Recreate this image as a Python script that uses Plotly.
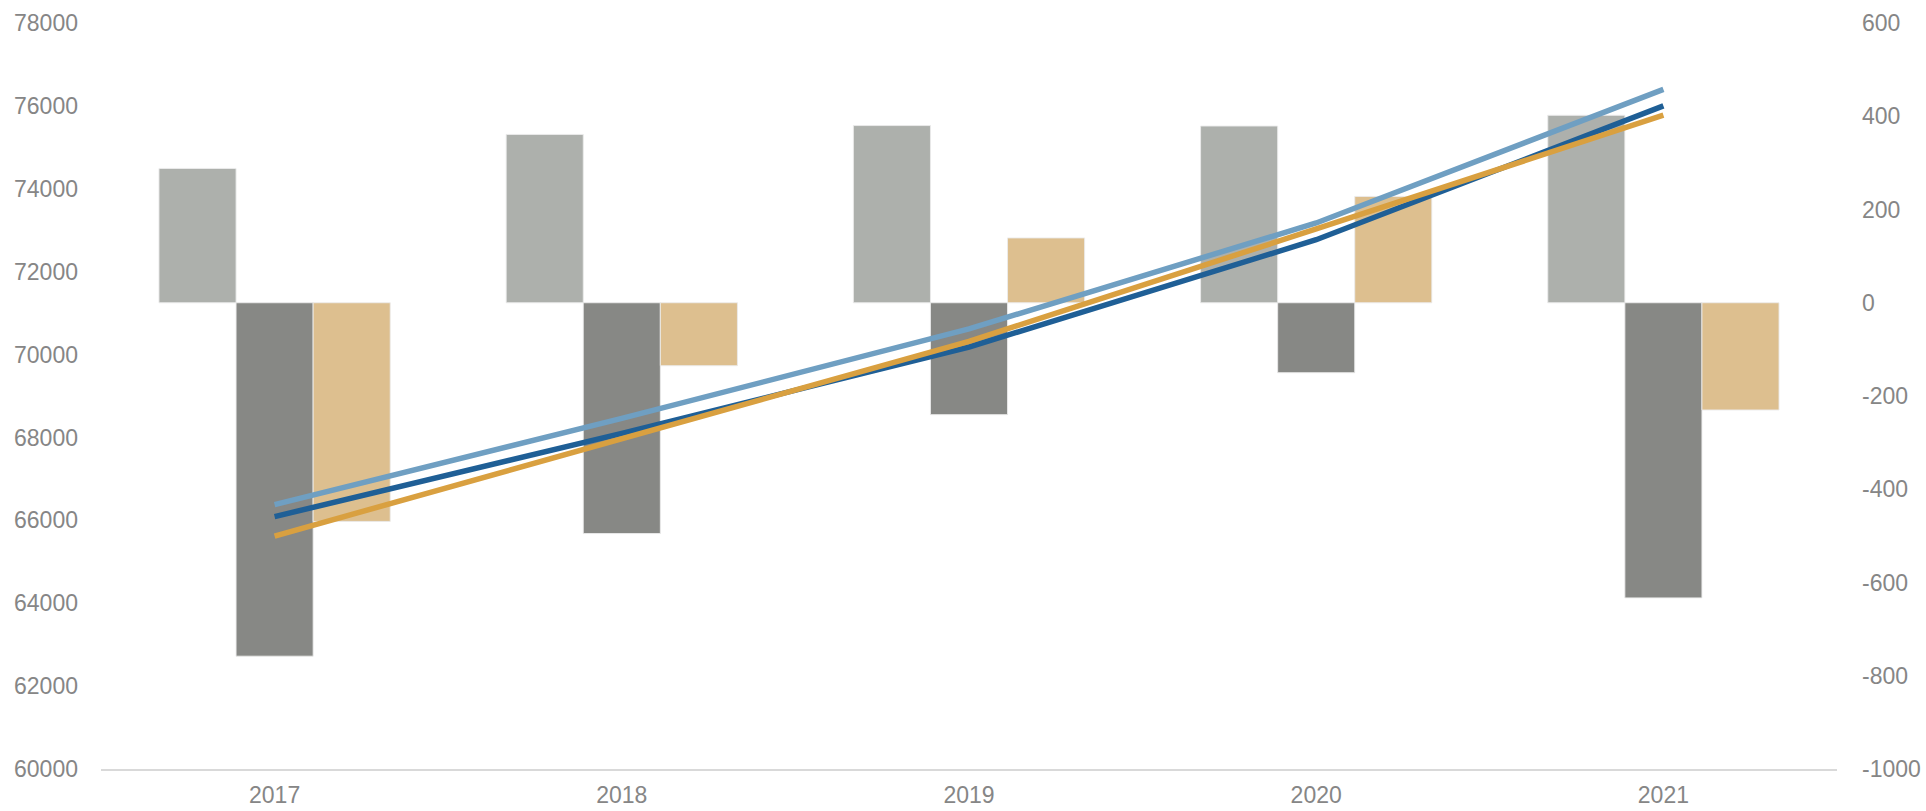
import plotly.graph_objects as go

years = ["2017", "2018", "2019", "2020", "2021"]

# Bar series (right axis)
bar_a = [288, 361, 380, 379, 402]
bar_b = [-758, -495, -240, -150, -633]
bar_c = [-469, -135, 139, 228, -230]

# Line series (left axis)
line_a = [66380, 68460, 70620, 73175, 76400]
line_b = [66090, 68100, 70180, 72770, 76000]
line_c = [65620, 67955, 70320, 73030, 75775]

# Tick labels
left_ticks = [60000, 62000, 64000, 66000, 68000, 70000, 72000, 74000, 76000, 78000]
right_ticks = [-1000, -800, -600, -400, -200, 0, 200, 400, 600]

bar_colors = ["#ADB0AC", "#878885", "#DDBF8F"]
line_colors = ["#6F9FC2", "#1F5F96", "#D9A040"]

fig = go.Figure()
for name, vals, col in zip(["Bar A", "Bar B", "Bar C"], [bar_a, bar_b, bar_c], bar_colors):
    fig.add_trace(go.Bar(x=years, y=vals, name=name, yaxis="y",
                         marker=dict(color=col, line=dict(color="rgba(235,235,235,0.9)", width=1))))
for name, vals, col in zip(["Line A", "Line B", "Line C"], [line_a, line_b, line_c], line_colors):
    fig.add_trace(go.Scatter(x=years, y=vals, name=name, yaxis="y2", mode="lines",
                             line=dict(color=col, width=5.5)))

tickfont = dict(family="Liberation Sans, Arial, sans-serif", size=23, color="#868686")

fig.update_layout(
    width=1926, height=811,
    margin=dict(l=101, r=89, t=23, b=42),
    paper_bgcolor="white", plot_bgcolor="white",
    showlegend=False,
    barmode="group", bargap=0.334, bargroupgap=0,
    xaxis=dict(showgrid=False, showline=True, linecolor="#D9D9D9", linewidth=1.5,
               ticks="", tickfont=tickfont, ticklabelstandoff=5, automargin=False),
    yaxis=dict(side="right", range=[-1000, 600], showgrid=False, zeroline=False,
               tickmode="array", tickvals=right_ticks, ticktext=[str(v) for v in right_ticks],
               showline=False, ticks="", tickfont=tickfont, ticklabelstandoff=24, automargin=False),
    yaxis2=dict(side="left", overlaying="y", range=[60000, 78000], showgrid=False,
                tickmode="array", tickvals=left_ticks, ticktext=[str(v) for v in left_ticks],
                zeroline=False, showline=False, ticks="", tickfont=tickfont, ticklabelstandoff=22,
                automargin=False),
)

fig.write_html("out.html", config={"displayModeBar": False},
               post_script="document.body.style.margin='0';document.body.style.overflow='hidden';")
